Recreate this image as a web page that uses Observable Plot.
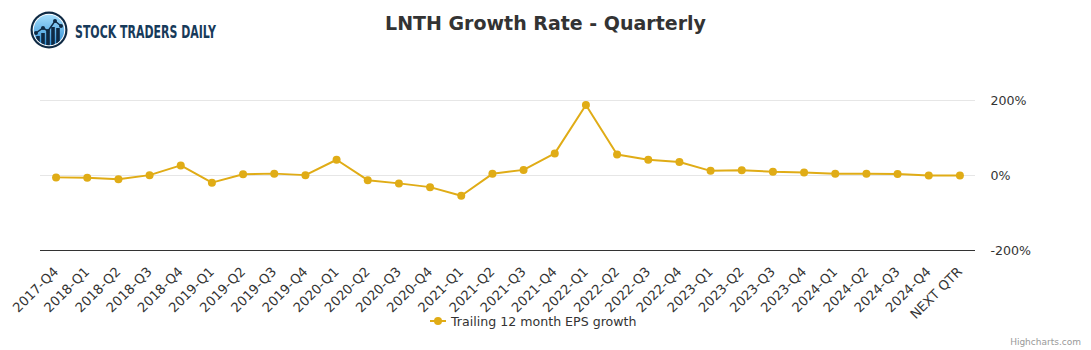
<!DOCTYPE html>
<html>
<head>
<meta charset="utf-8">
<script src="https://cdn.jsdelivr.net/npm/d3@7"></script>
<script src="https://cdn.jsdelivr.net/npm/@observablehq/plot@0.6"></script>
<style>
  html, body { margin: 0; padding: 0; background: #fff; }
  #wrap { position: relative; width: 1091px; height: 350px; overflow: hidden; font-family: "DejaVu Sans", sans-serif; }
  #chart { position: absolute; left: 0; top: 0; }
  #overlay { position: absolute; left: 0; top: 0; pointer-events: none; }
</style>
</head>
<body>
<div id="wrap">
  <div id="chart"></div>
  <svg id="overlay" width="1091" height="350"></svg>
</div>
<script>
const quarters = ["2017-Q4","2018-Q1","2018-Q2","2018-Q3","2018-Q4","2019-Q1","2019-Q2","2019-Q3","2019-Q4",
  "2020-Q1","2020-Q2","2020-Q3","2020-Q4","2021-Q1","2021-Q2","2021-Q3","2021-Q4","2022-Q1","2022-Q2","2022-Q3",
  "2022-Q4","2023-Q1","2023-Q2","2023-Q3","2023-Q4","2024-Q1","2024-Q2","2024-Q3","2024-Q4","NEXT QTR"];
const growth = [-5,-6,-10,1,27,-19,3.5,5,1,42,-12.5,-21,-31,-54,4.4,15,59,188,56,42,36,12.4,14,10,8,4.4,4.4,4,0,0];
const yTicks = [-200, 0, 200];
const seriesName = "Trailing 12 month EPS growth";
const titleText = "LNTH Growth Rate - Quarterly";
const brandText = "STOCK TRADERS DAILY";
const creditText = "Highcharts.com";

const color = "#e0ac16";
const data = quarters.map((q, i) => ({q, v: growth[i]}));

const chart = Plot.plot({
  width: 1091,
  height: 350,
  marginTop: 100,
  marginBottom: 100,
  marginLeft: 40,
  marginRight: 116,
  style: {fontFamily: "DejaVu Sans, sans-serif", color: "#333", background: "transparent"},
  x: {type: "point", domain: quarters, padding: 0.5, round: false, label: null},
  y: {domain: [-200, 200], label: null},
  marks: [
    Plot.gridY([0, 200], {stroke: "#e6e6e6", strokeOpacity: 1}),
    Plot.ruleY([-200], {stroke: "#333", strokeWidth: 1}),
    Plot.axisX({tickRotate: -45, tickSize: 0, tickPadding: 19, fontSize: 13.2, fill: "#333", label: null}),
    Plot.axisY({anchor: "right", ticks: yTicks, tickFormat: d => d + "%", tickSize: 0, tickPadding: 15, fontSize: 12.6, fill: "#333", label: null}),
    Plot.line(data, {x: "q", y: "v", stroke: color, strokeWidth: 2}),
    Plot.dot(data, {x: "q", y: "v", r: 4, fill: color})
  ]
});
document.getElementById("chart").appendChild(chart);

const ov = d3.select("#overlay");
// Title
ov.append("text").attr("x", 545.5).attr("y", 30).attr("text-anchor", "middle")
  .attr("font-family", "DejaVu Sans, sans-serif").attr("font-weight", "bold").attr("font-size", 19)
  .attr("fill", "#333").text(titleText);

// Logo
const defs = ov.append("defs");
const grad = defs.append("linearGradient").attr("id", "lg").attr("x1", 0).attr("y1", 0).attr("x2", 0).attr("y2", 1);
grad.append("stop").attr("offset", "0%").attr("stop-color", "#a5defc");
grad.append("stop").attr("offset", "100%").attr("stop-color", "#2f8fd6");
const logo = ov.append("g");
logo.append("circle").attr("cx", 49).attr("cy", 30).attr("r", 18.5).attr("fill", "#0f2a44");
logo.append("circle").attr("cx", 49).attr("cy", 30).attr("r", 16.3).attr("fill", "#ffffff");
logo.append("circle").attr("cx", 49).attr("cy", 30).attr("r", 15.3).attr("fill", "url(#lg)");
const clip = defs.append("clipPath").attr("id", "lc");
clip.append("circle").attr("cx", 49).attr("cy", 30).attr("r", 15.3);
const inner = logo.append("g").attr("clip-path", "url(#lc)");
const bars = [[38, 36, 12], [43, 33, 15], [48, 32, 16], [53, 27, 20], [58, 28, 18]];
bars.forEach(([x, y, h]) => inner.append("rect").attr("x", x - 1.8).attr("y", y).attr("width", 3.6).attr("height", h).attr("fill", "#0f2a44"));
inner.append("polyline").attr("points", "36,33 43,28 48,31 55,21 61,26").attr("fill", "none").attr("stroke", "#0f2a44").attr("stroke-width", 1.5);
[[36,33],[43,28],[48,31],[55,21],[61,26]].forEach(([x,y]) => inner.append("circle").attr("cx", x).attr("cy", y).attr("r", 2).attr("fill", "#0f2a44"));
ov.append("text").attr("x", 75).attr("y", 38).attr("font-family", "DejaVu Sans, sans-serif")
  .attr("font-size", 17).attr("font-weight", "bold").attr("fill", "#173a5a").attr("textLength", 141).attr("lengthAdjust", "spacingAndGlyphs")
  .text(brandText);

// Legend
ov.append("line").attr("x1", 430).attr("x2", 446).attr("y1", 321).attr("y2", 321).attr("stroke", color).attr("stroke-width", 2);
ov.append("circle").attr("cx", 438).attr("cy", 321).attr("r", 4).attr("fill", color);
ov.append("text").attr("x", 451).attr("y", 325.5).attr("font-family", "DejaVu Sans, sans-serif")
  .attr("font-size", 12.6).attr("fill", "#333").text(seriesName);

// Credits
ov.append("text").attr("x", 1081).attr("y", 345).attr("text-anchor", "end").attr("font-family", "DejaVu Sans, sans-serif")
  .attr("font-size", 9).attr("fill", "#999").text(creditText);
</script>
</body>
</html>
